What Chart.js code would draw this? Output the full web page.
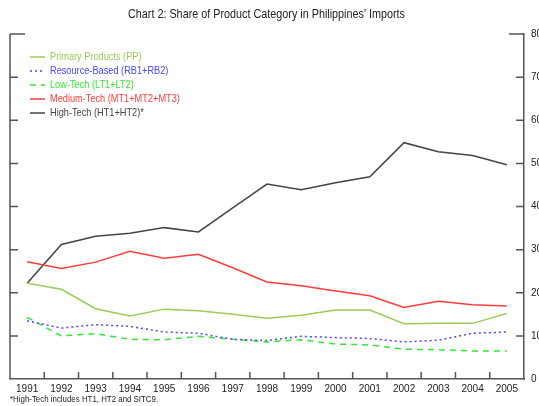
<!DOCTYPE html>
<html>
<head>
<meta charset="utf-8">
<script src="https://cdn.jsdelivr.net/npm/chart.js@4/dist/chart.umd.min.js"></script>
<style>
html,body{margin:0;padding:0;background:#fff;}
#c{display:block;}
</style>
</head>
<body>
<canvas id="c" width="539" height="406"></canvas>
<script>
const years = ['1991','1992','1993','1994','1995','1996','1997','1998','1999','2000','2001','2002','2003','2004','2005'];
const yTicks = [0,10,20,30,40,50,60,70,80];
const primaryProducts = [22.2,20.8,16.3,14.6,16.2,15.8,15.0,14.1,14.8,16.0,16.0,12.8,12.9,12.9,15.2];
const resourceBased   = [13.5,11.8,12.6,12.2,10.9,10.6,9.2,8.9,9.9,9.6,9.4,8.6,9.0,10.6,10.9];
const lowTech         = [14.3,10.0,10.5,9.2,9.1,9.9,9.2,8.6,9.1,8.1,7.9,6.9,6.8,6.5,6.5];
const mediumTech      = [27.2,25.6,27.1,29.6,28.0,28.9,25.8,22.5,21.6,20.4,19.3,16.6,18.0,17.2,16.9];
const highTech        = [22.2,31.2,33.1,33.8,35.1,34.1,39.7,45.2,43.9,45.5,46.9,54.8,52.7,51.8,49.7];

const titleText = "Chart 2: Share of Product Category in Philippines' Imports";
const footText = "*High-Tech includes HT1, HT2 and SITC9.";
const FONT = "'Liberation Sans',Arial,sans-serif";
const AXIS = '#555555';

const series = [
  {label:'Primary Products (PP)', data:primaryProducts, color:'#9ccc58', dash:[]},
  {label:'Resource-Based (RB1+RB2)', data:resourceBased, color:'#4747ff', dash:[2,3]},
  {label:'Low-Tech (LT1+LT2)', data:lowTech, color:'#33e633', dash:[6,5]},
  {label:'Medium-Tech (MT1+MT2+MT3)', data:mediumTech, color:'#ff3b3b', dash:[]},
  {label:'High-Tech (HT1+HT2)*', data:highTech, color:'#444444', dash:[]}
];

function narrowText(ctx, text, x, y, align, sx){
  ctx.save();
  ctx.translate(x, y);
  ctx.scale(sx, 1);
  ctx.textAlign = align;
  ctx.fillText(text, 0, 0);
  ctx.restore();
}

const deco = {
  id:'deco',
  afterDraw(chart){
    const ctx = chart.ctx, a = chart.chartArea;
    const x = chart.scales.x, y = chart.scales.y;
    ctx.save();
    // title
    ctx.fillStyle = '#222';
    ctx.font = '13.5px ' + FONT;
    ctx.textBaseline = 'middle';
    narrowText(ctx, titleText, 266.5, 14, 'center', 0.8);
    // left border
    ctx.strokeStyle = AXIS;
    ctx.lineWidth = 1.5;
    ctx.beginPath();
    ctx.moveTo(a.left, a.top); ctx.lineTo(a.left, a.bottom);
    ctx.stroke();
    // inward y ticks on both sides
    yTicks.forEach(v => {
      if (v === 0) return;
      const py = y.getPixelForValue(v);
      const len = v === 80 ? 15 : 8;
      ctx.beginPath();
      ctx.moveTo(a.left, py); ctx.lineTo(a.left + len, py);
      ctx.moveTo(a.right, py); ctx.lineTo(a.right - len, py);
      ctx.stroke();
    });
    // inward x ticks at category boundaries
    for (let i = 1; i < years.length; i++) {
      const px = (x.getPixelForValue(i-1) + x.getPixelForValue(i)) / 2;
      ctx.beginPath();
      ctx.moveTo(px, a.bottom); ctx.lineTo(px, a.bottom - 7);
      ctx.stroke();
    }
    // legend
    ctx.font = '11.5px ' + FONT;
    ctx.textBaseline = 'middle';
    series.forEach((s, i) => {
      const ly = 57 + i * 14;
      ctx.strokeStyle = s.color;
      ctx.lineWidth = 1.5;
      ctx.setLineDash(s.dash);
      ctx.beginPath();
      ctx.moveTo(30, ly); ctx.lineTo(45, ly);
      ctx.stroke();
      ctx.setLineDash([]);
      ctx.fillStyle = s.color;
      narrowText(ctx, s.label, 50, ly, 'left', 0.8);
    });
    // footnote
    ctx.fillStyle = '#222';
    ctx.font = '9.5px ' + FONT;
    narrowText(ctx, footText, 10, 399, 'left', 0.83);
    ctx.restore();
  }
};

new Chart(document.getElementById('c'), {
  type:'line',
  data:{
    labels: years,
    datasets: series.map(s => ({
      label: s.label,
      data: s.data,
      borderColor: s.color,
      backgroundColor: s.color,
      borderDash: s.dash,
      borderWidth: 1.5,
      pointRadius: 0,
      tension: 0,
      fill: false
    }))
  },
  options:{
    responsive:false,
    animation:false,
    devicePixelRatio:1,
    layout:{padding:{left:10, top:34, right:0, bottom:0}},
    plugins:{legend:{display:false}, title:{display:false}, tooltip:{enabled:false}},
    scales:{
      x:{
        type:'category',
        offset:true,
        grid:{display:false, drawTicks:false, offset:true},
        border:{display:true, color:AXIS, width:1.5},
        ticks:{font:{family:FONT, size:10}, color:'#222', padding:4, maxRotation:0, autoSkip:false},
        afterFit(s){ s.height = 27; }
      },
      y:{
        position:'right',
        min:0, max:80,
        grid:{display:false, drawTicks:false},
        border:{display:true, color:AXIS, width:1.5},
        ticks:{stepSize:10, font:{family:FONT, size:10}, color:'#222', padding:7},
        afterBuildTicks(s){ s.ticks = yTicks.map(v => ({value:v})); },
        afterFit(s){ s.width = 15; }
      }
    }
  },
  plugins:[deco]
});
</script>
</body>
</html>
